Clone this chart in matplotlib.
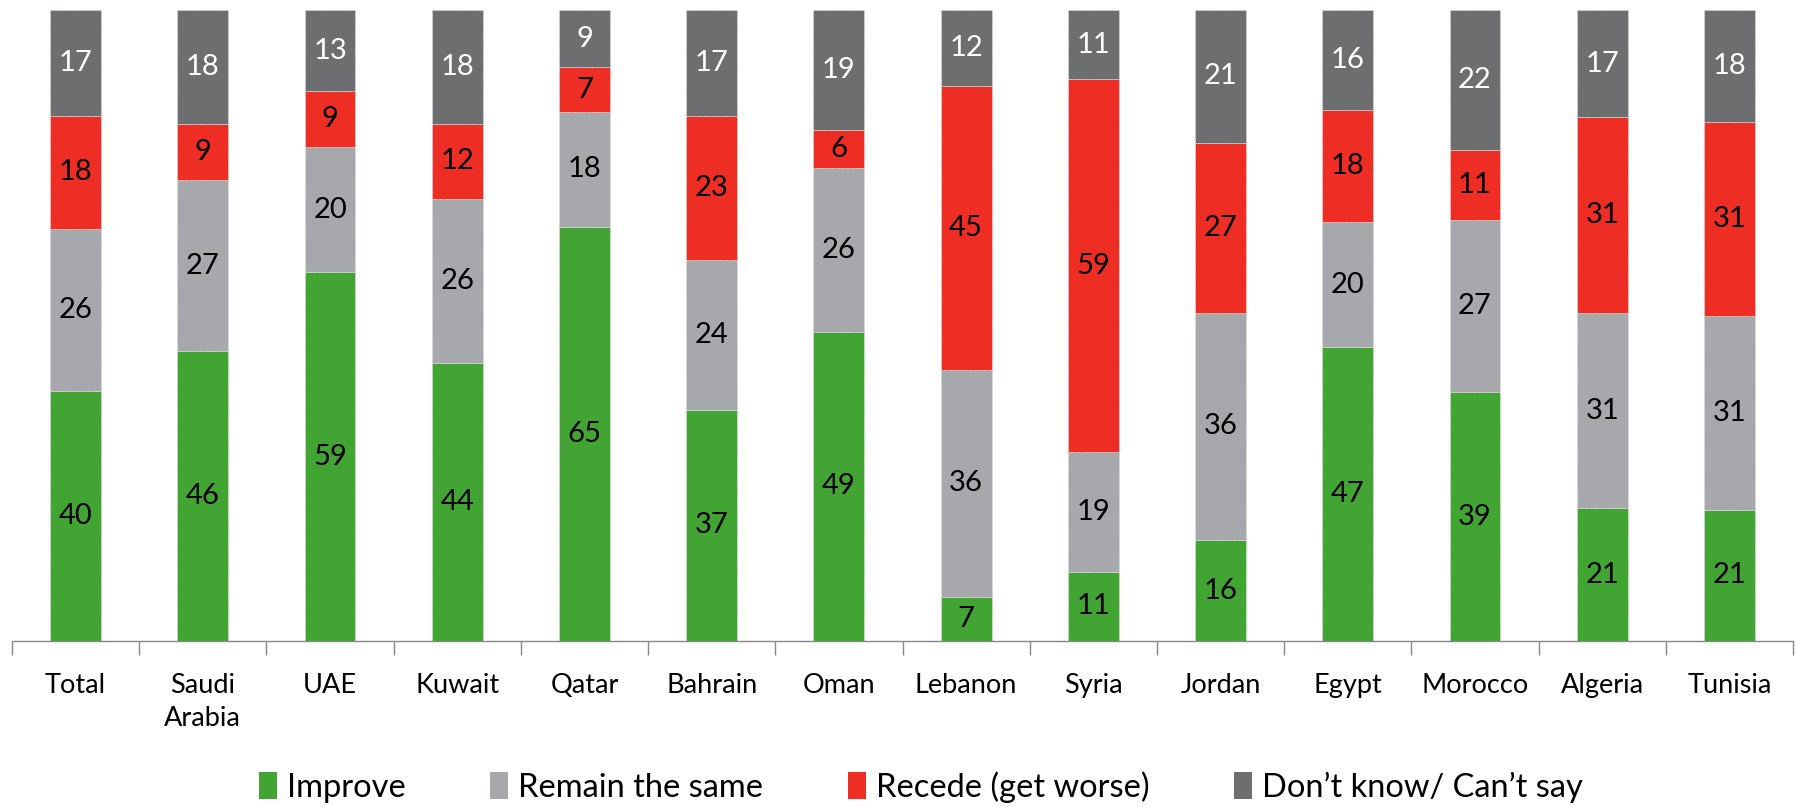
import matplotlib
matplotlib.use("Agg")
import matplotlib.pyplot as plt
import numpy as np
from matplotlib.patches import Patch

plt.rcParams['font.family'] = ['Lato', 'DejaVu Sans']

countries = ["Total", "Saudi\nArabia", "UAE", "Kuwait", "Qatar", "Bahrain", "Oman",
             "Lebanon", "Syria", "Jordan", "Egypt", "Morocco", "Algeria", "Tunisia"]
improve = [40, 46, 59, 44, 65, 37, 49, 7, 11, 16, 47, 39, 21, 21]
remain = [26, 27, 20, 26, 18, 24, 26, 36, 19, 36, 20, 27, 31, 31]
recede = [18, 9, 9, 12, 7, 23, 6, 45, 59, 27, 18, 11, 31, 31]
dont_know = [17, 18, 13, 18, 9, 17, 19, 12, 11, 21, 16, 22, 17, 18]

series_names = ["Improve", "Remain the same", "Recede (get worse)", "Don\u2019t know/ Can\u2019t say"]
colors = ["#42a533", "#a7a8ab", "#ee2e24", "#6d6e70"]
label_colors = ["black", "black", "black", "white"]

data = np.array([improve, remain, recede, dont_know], dtype=float)
shares = data / data.sum(axis=0) * 100  # 100% stacked

fig = plt.figure(figsize=(17.95, 8.07), dpi=100)
ax = fig.add_axes([12 / 1795, (807 - 641) / 807, (1793 - 12) / 1795, (641 - 10) / 807])

x = np.arange(len(countries))
bottom = np.zeros(len(countries))
for k in range(4):
    ax.bar(x, shares[k], bottom=bottom, width=0.4, color=colors[k],
           edgecolor="#d9d9d9", linewidth=0.6, linestyle=(0, (2, 1)), zorder=2)
    for i in range(len(countries)):
        ax.text(x[i], bottom[i] + shares[k][i] / 2, f"{int(data[k][i])}",
                ha="center", va="center", fontsize=21, color=label_colors[k], zorder=3)
    bottom += shares[k]

ax.set_xlim(-0.5, len(countries) - 0.5)
ax.set_ylim(0, 100)
for s in ["top", "right", "left"]:
    ax.spines[s].set_visible(False)
ax.spines["bottom"].set_color("#888888")
ax.spines["bottom"].set_linewidth(1.0)
ax.set_yticks([])

ax.set_xticks(np.arange(-0.5, len(countries), 1.0))
ax.set_xticklabels([])
ax.tick_params(axis="x", which="major", length=10, color="#888888", width=1.0)
ax.set_xticks(x, minor=True)
ax.set_xticklabels(countries, minor=True, fontsize=19.5, va="top", linespacing=1.4)
ax.tick_params(axis="x", which="minor", length=0, pad=23)

handles = [Patch(facecolor=c, edgecolor="none") for c in colors]
fig.legend(handles, series_names, loc="center", bbox_to_anchor=(0.513, 0.025),
           ncol=4, frameon=False, fontsize=23.5, handlelength=0.55, handleheight=0.9,
           handletextpad=0.3, columnspacing=2.6)

fig.savefig("out.png", dpi=100)
